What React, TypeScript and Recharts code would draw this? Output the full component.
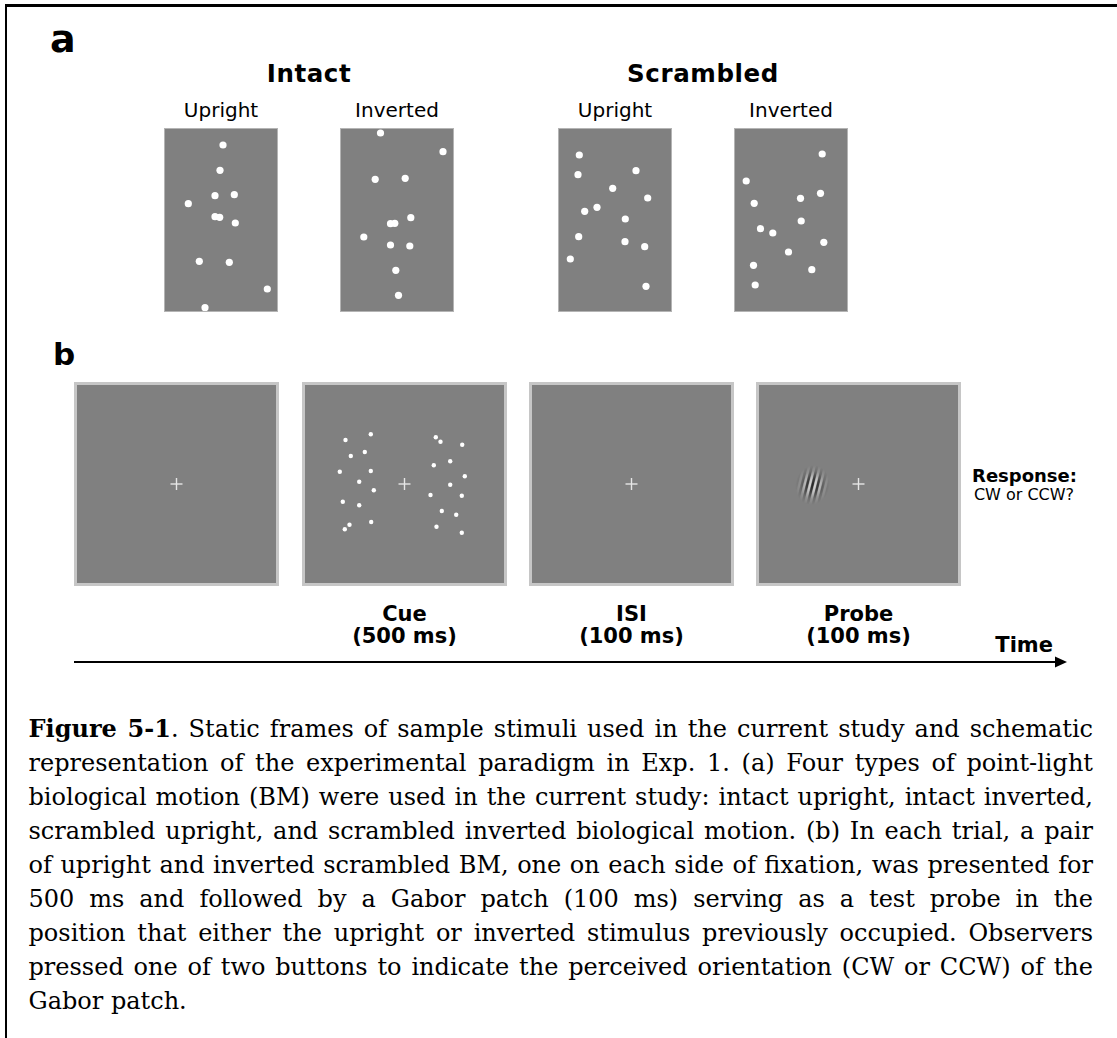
import React from 'react';
import { ScatterChart, Scatter, XAxis, YAxis } from 'recharts';

type Pt = { x: number; y: number };

// Point-light frames for panel a. Units are display pixels, origin at the
// centre of each stimulus window, y pointing up.
const intactUpright: Pt[] = [
  { x: 2, y: 75 }, { x: -1, y: 49.7 }, { x: -6, y: 24.3 }, { x: 13.3, y: 25.3 },
  { x: -32.7, y: 16.3 }, { x: -6, y: 3.3 }, { x: -1.3, y: 2.7 }, { x: 14.3, y: -3 },
  { x: -21.7, y: -41.3 }, { x: 8.3, y: -42.3 }, { x: 46.3, y: -69 }, { x: -16, y: -87.7 },
];
const intactInverted: Pt[] = [
  { x: -16.5, y: 87 }, { x: 46, y: 68.3 }, { x: -21.8, y: 40.7 }, { x: 8.2, y: 41.7 },
  { x: 13.8, y: 2.3 }, { x: -6.5, y: -3.7 }, { x: -2.2, y: -3.3 }, { x: -33.2, y: -17 },
  { x: -6.5, y: -25 }, { x: 12.8, y: -26 }, { x: -1.2, y: -50.3 }, { x: 1.5, y: -75.3 },
];
const scrambledUpright: Pt[] = [
  { x: -35.7, y: 65 }, { x: -37, y: 45.3 }, { x: 21, y: 49.3 }, { x: -2.3, y: 31.7 },
  { x: 32.7, y: 22 }, { x: -30.3, y: 8.7 }, { x: -18, y: 12.7 }, { x: 10.3, y: 1 },
  { x: -36.3, y: -16.7 }, { x: 10, y: -21.7 }, { x: 29.7, y: -26.7 }, { x: -44.7, y: -39 },
  { x: 31, y: -66.3 },
];
const scrambledInverted: Pt[] = [
  { x: 31.2, y: 66 }, { x: -44.8, y: 39 }, { x: 29.5, y: 26.7 }, { x: -36.8, y: 16.7 },
  { x: 9.5, y: 21.7 }, { x: 10.2, y: -1 }, { x: -30.5, y: -8.7 }, { x: -18.2, y: -13 },
  { x: 32.8, y: -22.3 }, { x: -2.5, y: -32 }, { x: -37.5, y: -45.3 }, { x: 20.8, y: -49.7 },
  { x: -35.8, y: -65 },
];

// Cue display in panel b: scrambled upright on the left, scrambled inverted on the right
const cueLeft: Pt[] = [
  { x: -59, y: 44 }, { x: -33.7, y: 49.7 }, { x: -53.7, y: 28 }, { x: -39.7, y: 32 },
  { x: -64.7, y: 12.3 }, { x: -33.7, y: 13 }, { x: -45.3, y: 2.3 }, { x: -30.7, y: -6.3 },
  { x: -61.7, y: -17.7 }, { x: -45.3, y: -21.3 }, { x: -55, y: -40.7 }, { x: -59.7, y: -45.3 },
  { x: -33.3, y: -38 },
];
const cueRight: Pt[] = [
  { x: 31.3, y: 46.7 }, { x: 36, y: 42.3 }, { x: 57.7, y: 39.3 }, { x: 29.3, y: 18.7 },
  { x: 45.7, y: 22.7 }, { x: 60.3, y: 7.7 }, { x: 45.7, y: -0.7 }, { x: 26, y: -11 },
  { x: 57.3, y: -11.7 }, { x: 37.3, y: -27 }, { x: 51.7, y: -30.7 }, { x: 32, y: -42.7 },
  { x: 57.3, y: -48.7 },
];

const fixation: Pt[] = [{ x: 0, y: 0 }];
const probeSite: Pt[] = [{ x: -46, y: -1 }];

const groupTitles = ['Intact', 'Scrambled'];
const orientationTitles = ['Upright', 'Inverted'];
const stepNames = ['', 'Cue', 'ISI', 'Probe'];
const stepDurations = ['', '(500 ms)', '(100 ms)', '(100 ms)'];

const captionLines = [
  'Static frames of sample stimuli used in the current study and schematic',
  'representation of the experimental paradigm in Exp. 1. (a) Four types of point-light',
  'biological motion (BM) were used in the current study: intact upright, intact inverted,',
  'scrambled upright, and scrambled inverted biological motion. (b) In each trial, a pair',
  'of upright and inverted scrambled BM, one on each side of fixation, was presented for',
  '500 ms and followed by a Gabor patch (100 ms) serving as a test probe in the',
  'position that either the upright or inverted stimulus previously occupied. Observers',
  'pressed one of two buttons to indicate the perceived orientation (CW or CCW) of the',
  'Gabor patch.',
];

const SANS = "'DejaVu Sans', Verdana, sans-serif";
const SERIF = "'DejaVu Serif', Cambria, serif";
const GRAY = '#808080';

// layout
const panelA = { lefts: [164, 340, 558, 734], top: 128, w: 114, h: 184 };
const panelB = { lefts: [74, 302, 529, 756], top: 382, size: 205 };

const dot = (r: number) => (p: any) => <circle cx={p.cx} cy={p.cy} r={r} fill="#fff" />;

const FixationCross = (p: any) => (
  <g stroke="#e6e6e6" strokeWidth={1.4}>
    <line x1={p.cx - 6} x2={p.cx + 6} y1={p.cy} y2={p.cy} />
    <line x1={p.cx} x2={p.cx} y1={p.cy - 6} y2={p.cy + 6} />
  </g>
);

// tilted grating under a gaussian-like window
const GaborPatch = (p: any) => {
  const stripes: React.ReactNode[] = [];
  for (let k = -6; k <= 6; k++) {
    stripes.push(
      <rect key={k} x={k * 2.6 - 1.1} y={-24} width={2.2} height={48}
        fill={k % 2 === 0 ? '#262626' : '#dadada'} />
    );
  }
  return (
    <g transform={`translate(${p.cx},${p.cy}) rotate(14)`}>
      <defs>
        <radialGradient id="gaborWindow">
          <stop offset="0%" stopColor="#fff" stopOpacity={1} />
          <stop offset="35%" stopColor="#fff" stopOpacity={0.75} />
          <stop offset="70%" stopColor="#fff" stopOpacity={0.2} />
          <stop offset="100%" stopColor="#fff" stopOpacity={0} />
        </radialGradient>
        <mask id="gaborMask">
          <ellipse cx={0} cy={0} rx={17} ry={20} fill="url(#gaborWindow)" />
        </mask>
      </defs>
      <g mask="url(#gaborMask)">{stripes}</g>
    </g>
  );
};

function Window({ left, top, width, height, border, borderColor, children }: {
  left: number; top: number; width: number; height: number;
  border: number; borderColor: string; children: React.ReactNode;
}) {
  const w = width - 2 * border;
  const h = height - 2 * border;
  return (
    <div style={{
      position: 'absolute', left, top, width, height, boxSizing: 'border-box',
      border: `${border}px solid ${borderColor}`, background: GRAY,
    }}>
      <ScatterChart width={w} height={h} margin={{ top: 0, right: 0, bottom: 0, left: 0 }}>
        <XAxis type="number" dataKey="x" domain={[-w / 2, w / 2]} allowDataOverflow hide />
        <YAxis type="number" dataKey="y" domain={[-h / 2, h / 2]} allowDataOverflow hide />
        {children}
      </ScatterChart>
    </div>
  );
}

const stimuli = [intactUpright, intactInverted, scrambledUpright, scrambledInverted];

export default function App() {
  const bCenters = panelB.lefts.map((l) => l + panelB.size / 2);
  const aCenters = panelA.lefts.map((l) => l + panelA.w / 2);
  return (
    <div style={{ position: 'absolute', left: 0, top: 0, width: 1117, height: 1038, background: '#fff', overflow: 'hidden' }}>
      <div style={{ position: 'absolute', left: 5, top: 4, width: 1200, height: 1100, borderTop: '3px solid #000', borderLeft: '2px solid #000' }} />

      <svg width={1117} height={700} style={{ position: 'absolute', left: 0, top: 0 }} fontFamily={SANS}>
        <text x={50} y={52} fontSize={38} fontWeight="bold">a</text>
        <text x={53} y={365} fontSize={31} fontWeight="bold">b</text>
        {groupTitles.map((t, i) => (
          <text key={t} x={(aCenters[2 * i] + aCenters[2 * i + 1]) / 2} y={82} fontSize={24.5}
            fontWeight="bold" textAnchor="middle" letterSpacing={0.6}>{t}</text>
        ))}
        {aCenters.map((cx, i) => (
          <text key={i} x={cx} y={117} fontSize={20} textAnchor="middle">{orientationTitles[i % 2]}</text>
        ))}
        {bCenters.map((cx, i) => (
          <g key={i} fontSize={21} fontWeight="bold" textAnchor="middle">
            <text x={cx} y={621}>{stepNames[i]}</text>
            <text x={cx} y={643}>{stepDurations[i]}</text>
          </g>
        ))}
        <text x={1024.5} y={482} fontSize={18} fontWeight="bold" textAnchor="middle">Response:</text>
        <text x={1024} y={500} fontSize={16} textAnchor="middle">CW or CCW?</text>
        <text x={1053} y={652} fontSize={21} fontWeight="bold" textAnchor="end">Time</text>
        <line x1={74} x2={1057} y1={662} y2={662} stroke="#000" strokeWidth={2} />
        <polygon points="1067,662 1055,656.5 1055,667.5" fill="#000" />
      </svg>

      {stimuli.map((pts, i) => (
        <Window key={i} left={panelA.lefts[i]} top={panelA.top} width={panelA.w} height={panelA.h}
          border={1} borderColor="#b4b4b4">
          <Scatter data={pts} shape={dot(3.6)} isAnimationActive={false} />
        </Window>
      ))}

      <Window left={panelB.lefts[0]} top={panelB.top} width={panelB.size} height={204} border={3} borderColor="#c6c6c6">
        <Scatter data={fixation} shape={FixationCross} isAnimationActive={false} />
      </Window>
      <Window left={panelB.lefts[1]} top={panelB.top} width={panelB.size} height={204} border={3} borderColor="#c6c6c6">
        <Scatter data={cueLeft} shape={dot(2.2)} isAnimationActive={false} />
        <Scatter data={cueRight} shape={dot(2.2)} isAnimationActive={false} />
        <Scatter data={fixation} shape={FixationCross} isAnimationActive={false} />
      </Window>
      <Window left={panelB.lefts[2]} top={panelB.top} width={panelB.size} height={204} border={3} borderColor="#c6c6c6">
        <Scatter data={fixation} shape={FixationCross} isAnimationActive={false} />
      </Window>
      <Window left={panelB.lefts[3]} top={panelB.top} width={panelB.size} height={204} border={3} borderColor="#c6c6c6">
        <Scatter data={probeSite} shape={GaborPatch} isAnimationActive={false} />
        <Scatter data={fixation} shape={FixationCross} isAnimationActive={false} />
      </Window>

      <div style={{ position: 'absolute', left: 28.5, top: 712, width: 1064.5, fontFamily: SERIF, fontSize: 24, lineHeight: '34.05px', color: '#000' }}>
        {captionLines.map((line, i) => (
          <div key={i} style={{
            whiteSpace: 'nowrap',
            textAlign: 'justify',
            textAlignLast: i < captionLines.length - 1 ? 'justify' : 'left',
          }}>
            {i === 0 && <b>Figure 5-1</b>}
            {i === 0 ? '. ' + line : line}
          </div>
        ))}
      </div>
    </div>
  );
}
